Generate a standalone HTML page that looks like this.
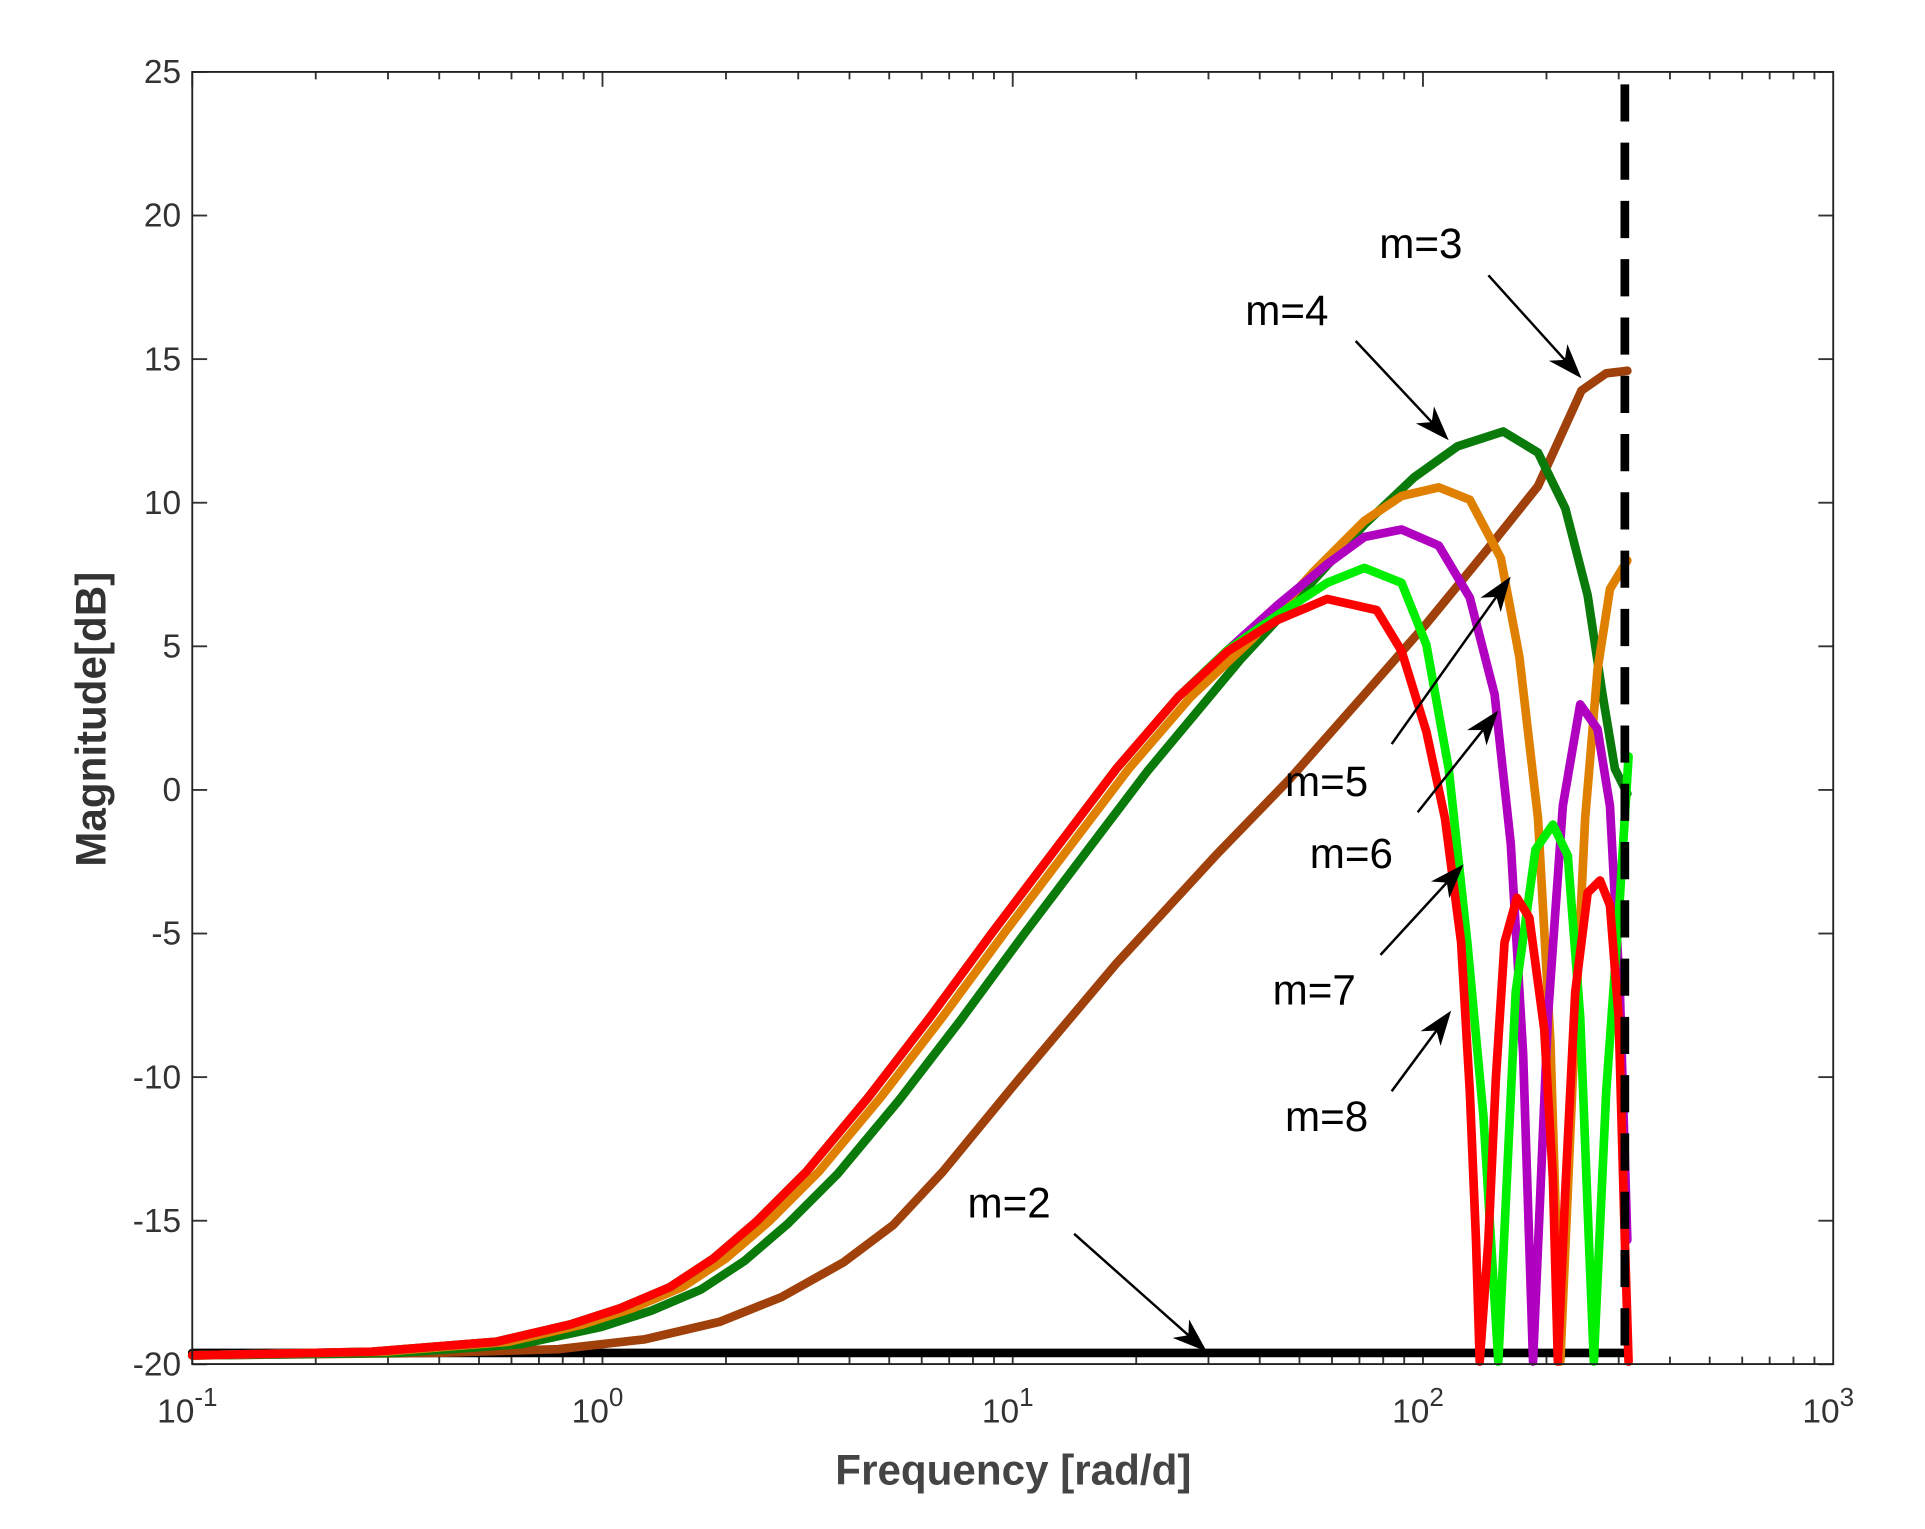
<!DOCTYPE html>
<html><head><meta charset="utf-8"><style>
html,body{margin:0;padding:0;background:#fff;}
svg{display:block;}
text{font-family:"Liberation Sans",Arial,sans-serif;}
</style></head><body>
<svg id="s" width="1925" height="1529" viewBox="0 0 1552 1233" preserveAspectRatio="none" xmlns="http://www.w3.org/2000/svg">
<rect x="0" y="0" width="1552" height="1233" fill="#fff"/>
<g id="ticks" stroke="#333" stroke-width="1.5" fill="none"></g>
<g fill="none" stroke-width="7" stroke-linejoin="round" stroke-linecap="round">
<polyline stroke="#000" points="155,1091 1312,1091"/>
<polyline stroke="#a0400a" points="155,1093 350,1091 450,1088 520,1080 580,1066 630,1046 680,1018 720,988 760,945 820,872 900,777 980,690 1040,628 1100,560 1150,503 1200,442 1240,392 1275,315 1295,301 1312,299"/>
<polyline stroke="#0a7a0a" points="155,1093 320,1091 420,1084 485,1070 525,1057 565,1040 600,1017 635,987 675,947 725,887 775,822 825,754 875,688 925,622 975,562 1000,532 1050,478 1100,423 1140,385 1175,360 1212,348 1240,365 1262,410 1280,480 1292,560 1302,620 1312,640"/>
<polyline stroke="#e08000" points="155,1093 310,1090 410,1082 470,1068 510,1055 550,1038 585,1015 620,985 660,945 710,885 760,820 810,752 860,686 910,620 960,562 1010,515 1060,460 1100,420 1130,400 1160,393 1185,403 1210,450 1225,530 1240,660 1250,840 1258,1098 1268,870 1278,660 1288,540 1298,475 1312,452"/>
<polyline stroke="#b000c0" points="155,1093 300,1090 400,1082 460,1068 500,1055 540,1038 575,1015 610,985 650,945 700,885 750,820 800,752 850,686 900,620 950,562 990,524 1030,488 1070,455 1100,433 1130,427 1160,440 1185,482 1205,560 1218,680 1228,850 1236,1098 1248,820 1260,650 1274,568 1288,588 1298,650 1306,800 1312,1000"/>
<polyline stroke="#00ee00" points="155,1093 300,1090 400,1082 460,1068 500,1055 540,1038 575,1015 610,985 650,945 700,885 750,820 800,752 850,686 900,620 950,562 990,524 1030,496 1070,470 1100,458 1130,470 1150,520 1168,620 1183,760 1196,900 1208,1098 1222,800 1238,685 1252,665 1264,690 1274,820 1281,1000 1285,1098 1295,880 1305,740 1313,610"/>
<polyline stroke="#ff0000" points="155,1093 300,1090 400,1082 460,1068 500,1055 540,1038 575,1015 610,985 650,945 700,885 750,820 800,752 850,686 900,620 950,562 990,525 1030,500 1070,483 1110,492 1130,525 1150,590 1165,660 1178,760 1185,880 1190,1000 1193,1098 1200,1000 1206,870 1213,760 1223,724 1233,740 1245,830 1252,950 1256,1098 1262,960 1270,800 1280,720 1290,710 1298,730 1305,820 1310,1000 1313,1098"/>
</g>
<line x1="1310" y1="68" x2="1310" y2="1100" stroke="#000" stroke-width="7" stroke-dasharray="30,17"/>
<rect x="155" y="58" width="1323" height="1042" fill="none" stroke="#222" stroke-width="1.5"/>
<g id="lab" fill="#333" font-size="27"></g>
<g font-size="34" fill="#000">
<text x="1112" y="208">m=3</text>
<text x="1004" y="262">m=4</text>
<text x="1036" y="642">m=5</text>
<text x="1056" y="700">m=6</text>
<text x="1026" y="810">m=7</text>
<text x="1036" y="912">m=8</text>
<text x="780" y="982">m=2</text>
</g>
<g stroke="#000" stroke-width="2" id="arr"></g>
<text x="817" y="1197" text-anchor="middle" font-size="34" font-weight="bold" fill="#444">Frequency [rad/d]</text>
<text transform="translate(85,580) rotate(-90)" text-anchor="middle" font-size="34" font-weight="bold" fill="#333">Magnitude[dB]</text>
</svg>
<script>
var NS="http://www.w3.org/2000/svg";
function el(p,t,a,txt){var e=document.createElementNS(NS,t);for(var k in a)e.setAttribute(k,a[k]);if(txt!==undefined)e.textContent=txt;p.appendChild(e);return e;}
var tk=document.getElementById("ticks"),lab=document.getElementById("lab");
var x0=155,dec=330.75,yT=58,yB=1100;
for(var d=0;d<4;d++){for(var m=1;m<10;m++){var x=x0+dec*(d+Math.log10(m));var L=m==1?12:6;
el(tk,"line",{x1:x,y1:yB,x2:x,y2:yB-L});el(tk,"line",{x1:x,y1:yT,x2:x,y2:yT+L});}}
var exps=["-1","0","1","2","3"];
for(var i=0;i<5;i++){var x=x0+dec*i;var t=el(lab,"text",{x:x-4,y:1147,"text-anchor":"middle"});
t.textContent="10";var s=el(t,"tspan",{dy:-13,"font-size":"21"});s.textContent=exps[i];}
for(var v=25;v>=-20;v-=5){var y=637-23.16*v;el(tk,"line",{x1:155,y1:y,x2:167,y2:y});el(tk,"line",{x1:1478,y1:y,x2:1466,y2:y});
el(lab,"text",{x:146,y:y+9,"text-anchor":"end"},String(v));}
var arr=[[1200,222,1275,305],[1093,275,1168,355],[1122,600,1218,465],[1143,655,1208,573],[1113,770,1180,697],[1122,880,1170,815],[866,995,973,1090]];
var ag=document.getElementById("arr");
arr.forEach(function(a){var dx=a[2]-a[0],dy=a[3]-a[1],l=Math.hypot(dx,dy),ux=dx/l,uy=dy/l;var bx=a[2]-ux*28,by=a[3]-uy*28;
el(ag,"line",{x1:a[0],y1:a[1],x2:bx+ux*10,y2:by+uy*10});
var px=-uy,py=ux;el(ag,"polygon",{points:a[2]+","+a[3]+" "+(bx+px*10)+","+(by+py*10)+" "+(bx+ux*8)+","+(by+uy*8)+" "+(bx-px*10)+","+(by-py*10),fill:"#000",stroke:"none"});});
</script>
</body></html>
